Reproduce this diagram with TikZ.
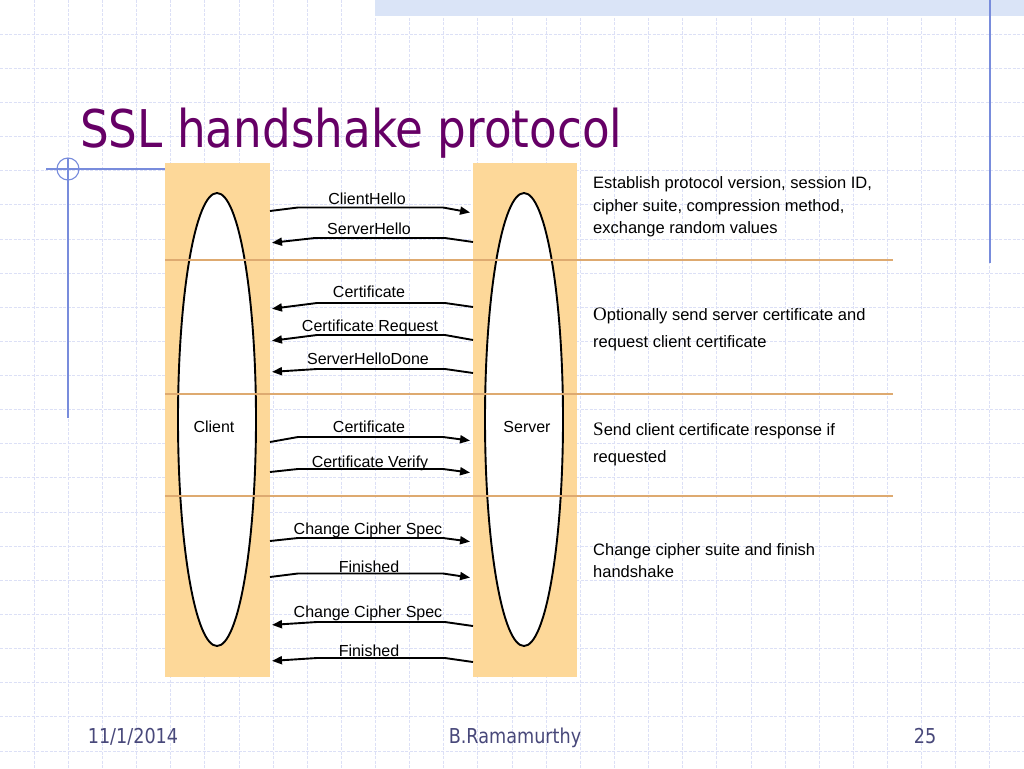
\documentclass[tikz,border=0pt]{standalone}
\usepackage{fontspec}
\setmainfont{Liberation Sans}
\newfontfamily\titlefont{DejaVu Sans}
\newfontfamily\bigserif{Liberation Serif}
\usepackage{graphicx}
\usetikzlibrary{shapes.geometric,arrows.meta}

\definecolor{gridc}{RGB}{220,224,246}
\definecolor{boxc}{RGB}{253,216,153}
\definecolor{sepc}{RGB}{222,170,112}
\definecolor{accent}{RGB}{120,140,220}
\definecolor{titlec}{RGB}{102,0,102}
\definecolor{footc}{RGB}{72,72,122}
\definecolor{barc}{RGB}{218,228,247}

\begin{document}
\begin{tikzpicture}[x=1pt,y=-1pt,
  gridline/.style={draw=gridc, line width=0.8pt, dash pattern=on 3pt off 1.5pt},
  lane/.style={fill=boxc, draw=none, minimum width=105pt, minimum height=514pt, inner sep=0pt, outer sep=0pt},
  party/.style={ellipse, draw=black, line width=1.9pt, fill=white, minimum width=78pt, minimum height=453pt, inner sep=0pt, outer sep=0pt},
  msg/.style={-{Triangle[length=10pt,width=8pt]}, line width=1.9pt, line join=round},
  lbl/.style={font=\fontsize{16}{19}\selectfont, anchor=base, inner sep=0pt},
  note/.style={font=\fontsize{16.5}{20}\selectfont, anchor=base west, inner sep=0pt},
  sep/.style={draw=sepc, line width=2.2pt},
  deco/.style={draw=accent, line width=1.1pt},
  foot/.style={text=footc, anchor=base, inner sep=0pt, font=\titlefont\fontsize{20.5}{24}\selectfont},
]
\useasboundingbox (0,0) rectangle (1024,768);
\fill[white] (0,0) rectangle (1024,768);

% background grid
\foreach \i in {1,...,29} \draw[gridline] (\i*34.1333,0) -- (\i*34.1333,768);
\foreach \j in {1,...,22} \draw[gridline] (0,\j*34.1333) -- (1024,\j*34.1333);

% top bar and decorative lines
\fill[barc] (375,0) rectangle (1024,16);
\draw[deco] (990,0) -- (990,263);

% lanes
\node[lane] (cbox) at (217.5,420) {};
\node[lane, minimum width=104pt] (sbox) at (525,420) {};

\draw[deco] (46,169) -- (cbox.west |- 0,169);
\draw[deco] (68,158) -- (68,418);
\draw[deco] (68,169) circle (11);

% title
\node[anchor=base west, inner sep=0pt, text=titlec, font=\titlefont\fontsize{52}{60}\selectfont] (title) at (80,147) {\scalebox{0.87}[1]{SSL handshake protocol}};

% parties
\node[party] (client) at (217,419.5) {};
\node[party] (server) at (524,419.5) {};
\node[lbl] (clientlbl) at (214,432) {Client};
\node[lbl] (serverlbl) at (527,432) {Server};

% separators
\coordinate (s1) at (893,260);
\coordinate (s2) at (893,394);
\coordinate (s3) at (893,496);
\draw[sep] (cbox.west |- s1) -- (s1);
\draw[sep] (cbox.west |- s2) -- (s2);
\draw[sep] (cbox.west |- s3) -- (s3);

% client -> server messages
\draw[msg, shorten >=3pt] (cbox.east |- 0,211) -- (298,207.5) -- (443,207.5) -- (sbox.west |- 0,213);
\node[lbl] (m1) at (367,204) {ClientHello};
\draw[msg, shorten >=3pt] (cbox.east |- 0,442) -- (298,437) -- (443,437) -- (sbox.west |- 0,441);
\node[lbl] (m4a) at (369,432) {Certificate};
\draw[msg, shorten >=3pt] (cbox.east |- 0,472) -- (298,469) -- (443,469) -- (sbox.west |- 0,473);
\node[lbl] (m4b) at (370,467) {Certificate Verify};
\draw[msg, shorten >=3pt] (cbox.east |- 0,541) -- (298,538) -- (443,538) -- (sbox.west |- 0,542);
\node[lbl] (m5a) at (368,534) {Change Cipher Spec};
\draw[msg, shorten >=3pt] (cbox.east |- 0,577) -- (298,573.5) -- (443,573.5) -- (sbox.west |- 0,578);
\node[lbl] (m5b) at (369,572) {Finished};

% server -> client messages
\draw[msg, shorten >=2pt] (sbox.west |- 0,242) -- (445,238) -- (315,238) -- (cbox.east |- 0,243);
\node[lbl] (m2) at (369,234) {ServerHello};
\draw[msg, shorten >=2pt] (sbox.west |- 0,307) -- (445,303) -- (317,303) -- (cbox.east |- 0,309);
\node[lbl] (m3a) at (369,297) {Certificate};
\draw[msg, shorten >=2pt] (sbox.west |- 0,340) -- (445,335) -- (317,335) -- (cbox.east |- 0,341);
\node[lbl] (m3b) at (370,331) {Certificate Request};
\draw[msg, shorten >=2pt] (sbox.west |- 0,373) -- (445,369) -- (317,369) -- (cbox.east |- 0,372);
\node[lbl] (m3c) at (368,364) {ServerHelloDone};
\draw[msg, shorten >=2pt] (sbox.west |- 0,626) -- (445,622) -- (317,622) -- (cbox.east |- 0,625);
\node[lbl] (m6a) at (368,617) {Change Cipher Spec};
\draw[msg, shorten >=2pt] (sbox.west |- 0,662) -- (445,658) -- (317,658) -- (cbox.east |- 0,661);
\node[lbl] (m6b) at (369,656) {Finished};

% explanations
\node[note] (n1a) at (593,188) {Establish protocol version, session ID,};
\node[note] (n1b) at (593,211) {cipher suite, compression method,};
\node[note] (n1c) at (593,233) {exchange random values};
\node[note] (n2a) at (593,320) {{\bigserif\fontsize{19}{20}\selectfont O}ptionally send server certificate and};
\node[note] (n2b) at (593,347) {request client certificate};
\node[note] (n3a) at (593,435) {{\bigserif\fontsize{19}{20}\selectfont S}end client certificate response if};
\node[note] (n3b) at (593,462) {requested};
\node[note] (n4a) at (593,555) {Change cipher suite and finish};
\node[note] (n4b) at (593,577) {handshake};

% footer
\node[foot] (date) at (133,743) {\scalebox{0.86}[1]{11/1/2014}};
\node[foot] (author) at (515,743) {\scalebox{0.86}[1]{B.Ramamurthy}};
\node[foot] (page) at (925,743) {\scalebox{0.86}[1]{25}};
\end{tikzpicture}
\end{document}
